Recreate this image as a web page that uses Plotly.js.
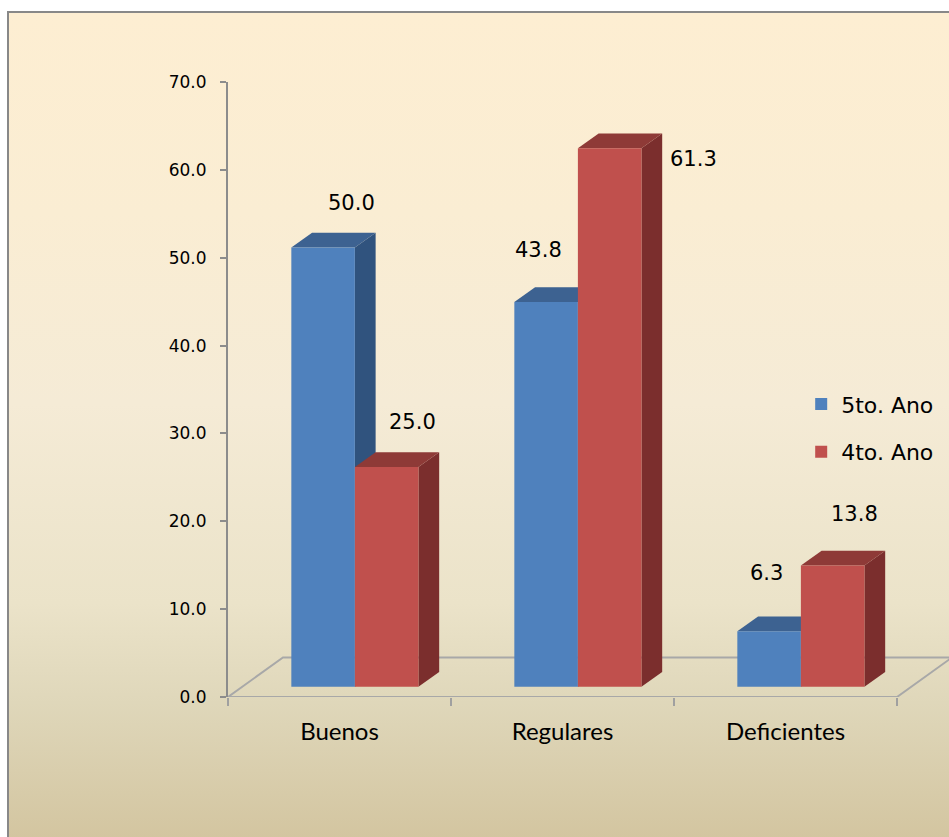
<!DOCTYPE html>
<html>
<head>
<meta charset="utf-8">
<script src="https://cdn.plot.ly/plotly-3.0.1.min.js"></script>
<style>
  html, body { margin: 0; padding: 0; width: 949px; height: 837px; overflow: hidden; background: #ffffff; }
  #frame {
    position: absolute; left: 7px; top: 11px; width: 980px; height: 860px;
    border-left: 2px solid #888888; border-top: 2px solid #888888;
    background: linear-gradient(to bottom, #FDEED2 0px, #FAEDD3 200px, #F5EBD6 390px, #EBE3C9 590px, #DFD7BA 690px, #D3C5A0 826px, #D0C29C 860px);
  }
  #chart { position: absolute; left: 0; top: 0; width: 949px; height: 837px; }
</style>
</head>
<body>
<div id="frame"></div>
<div id="chart"></div>
<script>
// Categories, series and axis ticks
const categories = ['Buenos', 'Regulares', 'Deficientes'];
const seriesNames = ['5to. Ano', '4to. Ano'];
const values5to = [50.0, 43.8, 6.3];
const values4to = [25.0, 61.3, 13.8];
const yTickValues = [0, 10, 20, 30, 40, 50, 60, 70];

// Styling of the pseudo-3D columns
const frontColors = ['#4F81BD', '#C0504D'];
const topColors = ['#3D6291', '#8E3A37'];
const sideColors = ['#30537E', '#7B2E2D'];
const barWidth = 0.285;          // in category units
const depthX = 0.093;            // column depth, category units
const depthY = 1.68;             // column depth, value units
const floorDX = 0.2466;
const floorDY = 4.5;
const xMax = 2.7332;
const barShiftX = 0.069;         // columns stand a little behind the front edge
const barShiftY = 1.172;

const seriesValues = [values5to, values4to];

const traces = [
  // carries the category axis on the front plane
  { type: 'scatter', x: categories, y: [0, 0, 0], mode: 'none', showlegend: false, hoverinfo: 'skip', xaxis: 'x', yaxis: 'y' }
];
seriesValues.forEach((vals, s) => {
  traces.push({
    type: 'bar', name: seriesNames[s], x: categories, y: vals,
    xaxis: 'x2', yaxis: 'y2',
    marker: { color: frontColors[s], line: { width: 0 } },
    legendgroup: 'g' + s,
    hovertemplate: '%{x}: %{y:.1f}<extra>' + seriesNames[s] + '</extra>'
  });
});

// floor of the 3D plot
const shapes = [{
  type: 'path', xref: 'x', yref: 'y', layer: 'below',
  path: `M ${-0.5},0 L 2.5,0 L ${2.5 + floorDX},${floorDY} L ${-0.5 + floorDX},${floorDY} Z`,
  line: { color: '#A8A8A8', width: 2 }, fillcolor: 'rgba(0,0,0,0)'
}];

// side and top faces of each column, computed from the values
categories.forEach((c, i) => {
  seriesValues.forEach((vals, s) => {
    const v = vals[i];
    const x0 = i - barWidth + s * barWidth;
    const x1 = x0 + barWidth;
    shapes.push({
      type: 'path', xref: 'x2', yref: 'y2', layer: 'below',
      path: `M ${x1},0 L ${x1},${v} L ${x1 + depthX},${v + depthY} L ${x1 + depthX},${depthY} Z`,
      fillcolor: sideColors[s], line: { width: 0 }
    });
    shapes.push({
      type: 'path', xref: 'x2', yref: 'y2', layer: 'below',
      path: `M ${x0},${v} L ${x1},${v} L ${x1 + depthX},${v + depthY} L ${x0 + depthX},${v + depthY} Z`,
      fillcolor: topColors[s], line: { width: 0 }
    });
  });
});

// value labels, placed around the column tops
const labelShift = [
  [[28, 44], [-8, 52], [-3, 58]],
  [[26, 45], [84, -11], [22, 51]]
];
const annotations = [];
seriesValues.forEach((vals, s) => {
  vals.forEach((v, i) => {
    annotations.push({
      xref: 'x2', yref: 'y2', x: i - barWidth / 2 + s * barWidth, y: v,
      text: v.toFixed(1), showarrow: false,
      xanchor: 'center', yanchor: 'middle',
      xshift: labelShift[s][i][0], yshift: labelShift[s][i][1],
      font: { family: 'DejaVu Sans', size: 21, color: '#000000' }
    });
  });
});

const layout = {
  width: 949, height: 837,
  margin: { l: 228, r: 0, t: 82, b: 140 },
  paper_bgcolor: 'rgba(0,0,0,0)', plot_bgcolor: 'rgba(0,0,0,0)',
  barmode: 'group', bargap: 0.43, bargroupgap: 0,
  showlegend: true,
  legend: {
    x: 0.795, y: 0.437, xanchor: 'left', yanchor: 'middle',
    bgcolor: 'rgba(0,0,0,0)', tracegroupgap: 16,
    font: { family: 'DejaVu Sans', size: 22, color: '#000000' }
  },
  xaxis: {
    type: 'category', range: [-0.5, xMax], tickson: 'boundaries',
    ticks: 'outside', ticklen: 8, tickwidth: 2, tickcolor: '#A0A0A0',
    showline: false, showgrid: false, zeroline: false, ticklabelstandoff: 18,
    tickfont: { family: 'Lato', size: 24, color: '#000000' }, fixedrange: true
  },
  yaxis: {
    range: [0, 70], tickmode: 'array', tickvals: yTickValues,
    ticktext: yTickValues.map(v => v.toFixed(1)),
    ticks: 'outside', ticklen: 6, tickwidth: 2, tickcolor: '#8C8C8C',
    showline: true, linecolor: '#8C8C8C', linewidth: 2,
    showgrid: false, zeroline: false, ticklabelstandoff: 10,
    tickfont: { family: 'DejaVu Sans', size: 17, color: '#000000' }, fixedrange: true
  },
  xaxis2: {
    type: 'category', overlaying: 'x', range: [-0.5 - barShiftX, xMax - barShiftX],
    visible: false, fixedrange: true
  },
  yaxis2: {
    overlaying: 'y', range: [-barShiftY, 70 - barShiftY],
    visible: false, fixedrange: true
  },
  shapes: shapes,
  annotations: annotations
};

Plotly.newPlot('chart', traces, layout, { displayModeBar: false, staticPlot: false });
</script>
</body>
</html>
